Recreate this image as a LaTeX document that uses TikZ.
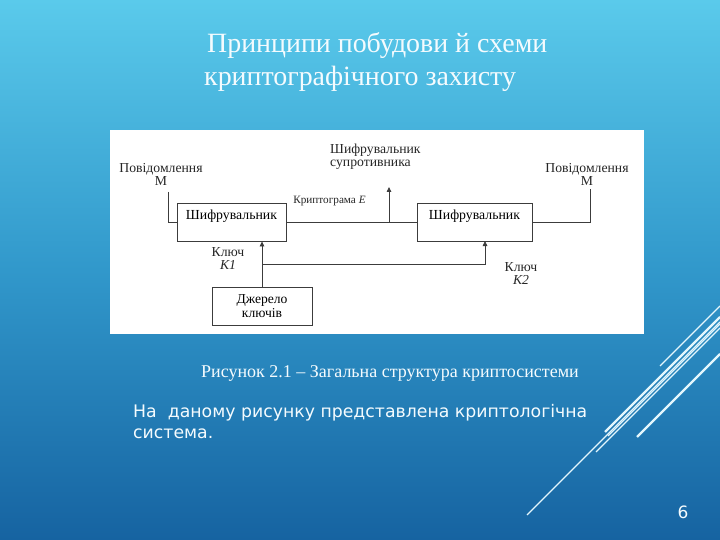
\documentclass[tikz,border=0pt]{standalone}
\usepackage{fontspec}
\setmainfont{Liberation Serif}
\newfontfamily\bodyfont{DejaVu Sans}
\usetikzlibrary{arrows.meta}
\definecolor{bgtop}{HTML}{5ACAEB}
\definecolor{bgmid}{HTML}{3198CB}
\definecolor{bgbot}{HTML}{1663A1}
\definecolor{ink}{HTML}{3C3C3C}
\definecolor{deco}{HTML}{E4F7FD}
\definecolor{txtw}{HTML}{F4FBFE}
\begin{document}
\begin{tikzpicture}[x=1pt,y=-1pt,
  blk/.style={draw=ink, line width=0.8pt, inner sep=0pt, minimum height=38pt, font=\fontsize{13.8}{15}\selectfont},
  lbl/.style={inner sep=0pt, align=center, font=\fontsize{13.7}{13}\selectfont, text=black!85},
  wire/.style={draw=ink, line width=0.8pt},
  arr/.style={wire, -{Triangle[length=5pt,width=4.5pt]}},
  thinline/.style={draw=deco, line width=1.1pt},
  thickline/.style={draw=deco, line width=2.2pt}]
\useasboundingbox (0,0) rectangle (720,540);
\shade[top color=bgtop, bottom color=bgbot, middle color=bgmid] (0,0) rectangle (720,540);
% decorative lines
\draw[thinline] (527,515) -- (720,322);
\draw[thinline] (596,452) -- (720,328);
\draw[thickline] (605,432) -- (720,317);
\draw[thinline] (608,436) -- (720,324);
\draw[thinline] (660,366) -- (720,306);
\draw[thickline] (637,437) -- (720,354);
% title
\node[anchor=base west, inner sep=0pt, text=txtw, font=\fontsize{27.9}{30}\selectfont] (t1) at (207,53) {Принципи побудови й схеми};
\node[anchor=base west, inner sep=0pt, text=txtw, font=\fontsize{27.9}{30}\selectfont] (t2) at (204,86) {криптографічного захисту};
% white panel
\fill[white] (110,130) rectangle (644,334);
% boxes
\node[blk, minimum width=109pt, text height=9pt, text depth=15pt] (b1) at (231.5,222) {Шифрувальник};
\node[blk, minimum width=115pt, text height=9pt, text depth=15pt] (b2) at (474.5,222) {Шифрувальник};
\node[blk, minimum width=100pt, align=center, font=\fontsize{13.6}{14}\selectfont] (b3) at (262,306) {Джерело\\ключів};
% labels
\node[lbl] (lm) at (161,174) {Повідомлення\\М};
\node[lbl] (rm) at (587,174) {Повідомлення\\М};
\node[lbl, align=left, anchor=west] (ev) at (330,157) {Шифрувальник\\супротивника};
\node[lbl, font=\fontsize{11.2}{12}\selectfont] (cr) at (329.5,201) {Криптограма \textit{E}};
\node[lbl] (k1) at (228,259) {Ключ\\\textit{K1}};
\node[lbl] (k2) at (521,273.5) {Ключ\\\textit{K2}};
% connectors
\coordinate (lmend) at (168,192);
\coordinate (rmend) at (590,189);
\coordinate (tap) at (389,222);
\coordinate (evtip) at (389,187);
\coordinate (kj) at (262,264);
\coordinate (k2in) at (485,241);
\draw[wire] (lmend) |- (b1.west);
\draw[wire] (b1.east) -- (b2.west);
\draw[wire] (b2.east) -| (rmend);
\draw[arr] (tap) -- (evtip);
\draw[arr] (b3.north) -- (b3.north |- b1.south);
\draw[arr] (kj) -| (k2in);
% caption and body
\node[anchor=base west, inner sep=0pt, text=txtw, font=\fontsize{18}{20}\selectfont] (cap) at (201,377) {Рисунок 2.1 – Загальна структура криптосистеми};
\node[anchor=base west, inner sep=0pt, text=txtw, align=left, font=\bodyfont\fontsize{17.3}{21}\selectfont] (body) at (133,438) {На~ даному рисунку представлена криптологічна\\система.};
\node[inner sep=0pt, text=txtw, font=\bodyfont\fontsize{17}{20}\selectfont] (pg) at (683,512) {6};
\end{tikzpicture}
\end{document}
